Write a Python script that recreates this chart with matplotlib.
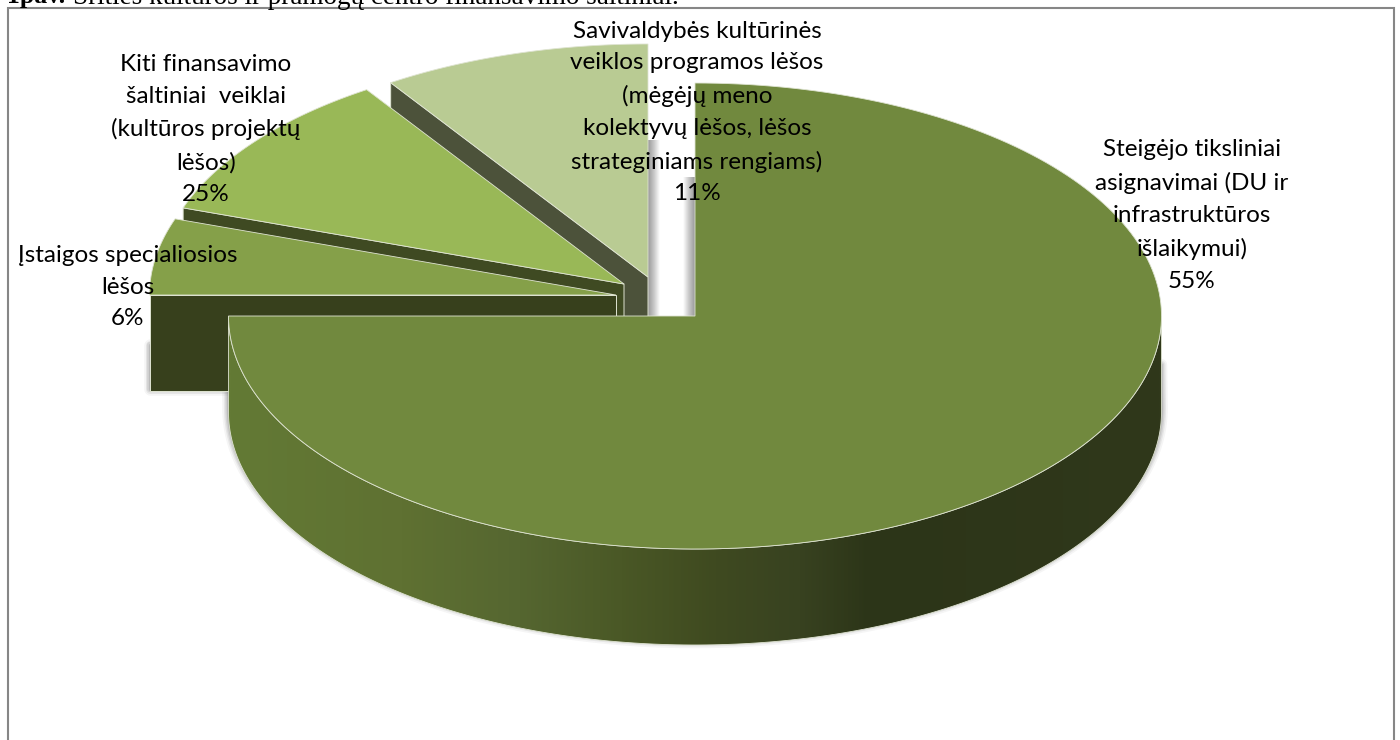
"""Exploded 3D-style pie: funding sources of the culture centre."""
import numpy as np
from matplotlib import pyplot as plt
from matplotlib.colors import LinearSegmentedColormap
from matplotlib.patches import Polygon, Rectangle

# slice sizes as drawn (the printed percentages differ from the drawn areas)
SLICE_SHARES = [75.0, 5.3, 10.4, 9.3]
LABEL_PERCENTS = [55, 6, 25, 11]
LABEL_NAMES = [
    "Steigėjo tiksliniai\nasignavimai (DU ir\ninfrastruktūros\nišlaikymui)",
    "Įstaigos specialiosios\nlėšos",
    "Kiti finansavimo\nšaltiniai  veiklai\n(kultūros projektų\nlėšos)",
    "Savivaldybės kultūrinės\nveiklos programos lėšos\n(mėgėjų meno\nkolektyvų lėšos, lėšos\nstrateginiams rengiams)",
]
CAPTION_BOLD = "1pav."
CAPTION = "Srities kultūros ir pramogų centro finansavimo šaltiniai."

TOP_COLORS = ["#71893e", "#85a049", "#99b857", "#b9cb93"]
WALL_COLORS = ["#3f4a20", "#37401c", "#3f4a22", "#4c523a"]
EDGE = "#dfe4d2"
TIPS = [(695, 316), (616, 295), (624, 284), (648, 277)]
LABEL_POS = [(1192, 215.5), (128, 287), (206, 129.5), (697, 112.5)]

RX, RY, DEPTH = 466.5, 233, 96
WALL_X = [228, 400, 520, 620, 715, 800, 870, 1161]
WALL_C = ["#637a35", "#5f7132", "#556630", "#4a5826", "#3f4a20", "#384220", "#2c3518", "#30381b"]


def arc(tip, t0, t1, n=200, dy=0):
    # angles in degrees, clockwise from 12 o'clock
    t = np.radians(np.linspace(t0, t1, n))
    return np.column_stack(
        [tip[0] + RX * np.sin(t), tip[1] - RY * np.cos(t) + dy]
    )


def soft_shadow(ax, xy, zorder):
    for lw, alpha in [(9, 0.06), (6.5, 0.09), (4.5, 0.12), (2.5, 0.16), (1, 0.2)]:
        ax.add_patch(
            Polygon(xy, closed=True, fc="#555555", ec="#555555", lw=lw, alpha=alpha,
                    joinstyle="round", zorder=zorder)
        )


fig = plt.figure(figsize=(14, 7.4), dpi=100)
ax = fig.add_axes([0, 0, 1, 1])
ax.axis("off")

ax.add_patch(Rectangle((7.5, 8), 1386.5, 760, fc="white", ec="#868686", lw=1.5, zorder=0))

# gaps between the main slice and the light one
grey = LinearSegmentedColormap.from_list("g", ["#9a9a9a", "#c8c8c8", "#ffffff"])
ax.imshow(np.linspace(0, 1, 32)[None, :], extent=[648, 660, 316, 140], aspect="auto",
          cmap=grey, zorder=1)
ax.imshow(np.linspace(1, 0, 32)[None, :], extent=[683, 695, 316, 177], aspect="auto",
          cmap=grey, zorder=1)

# shadows under the walls
soft_shadow(ax, [(150, 345), (400, 345), (400, 389), (150, 389)], 1)
main_floor = arc(TIPS[0], 90, 270, dy=DEPTH - 3)
soft_shadow(ax, np.vstack([[(1161, 365)], main_floor, [(228, 365)]]), 1)

edges = np.concatenate([[0], np.cumsum(SLICE_SHARES)]) * 360 / sum(SLICE_SHARES)

# back to front, so nearer slices cover the walls of the ones behind
for i in reversed(range(len(SLICE_SHARES))):
    tip, t0, t1 = TIPS[i], edges[i], edges[i + 1]
    z = 2 + (len(SLICE_SHARES) - i)
    rim = arc(tip, t0, t1)
    start = rim[0]
    if i > 0:
        # cut face along the slice's first edge
        ax.add_patch(
            Polygon(
                [tip, start, (start[0], start[1] + DEPTH), (tip[0], tip[1] + DEPTH)],
                closed=True, fc=WALL_COLORS[i], ec=EDGE, lw=0.7, zorder=z,
            )
        )
    else:
        # rounded outer wall, shaded left to right
        top = arc(tip, 90, 270)
        wall = Polygon(np.vstack([top, arc(tip, 270, 90, dy=DEPTH)]), closed=True,
                       fc="none", ec=EDGE, lw=0.6, zorder=z + 0.1)
        ax.add_patch(wall)
        cmap = LinearSegmentedColormap.from_list(
            "wall",
            [((x - WALL_X[0]) / (WALL_X[-1] - WALL_X[0]), c) for x, c in zip(WALL_X, WALL_C)],
        )
        im = ax.imshow(np.linspace(0, 1, 512)[None, :], extent=[228, 1162, 646, 316],
                       aspect="auto", cmap=cmap, zorder=z)
        im.set_clip_path(wall)
    ax.add_patch(
        Polygon(np.vstack([[tip], rim]), closed=True, fc=TOP_COLORS[i], ec=EDGE,
                lw=0.6, zorder=z + 0.2)
    )

for name, pct, (x, y) in zip(LABEL_NAMES, LABEL_PERCENTS, LABEL_POS):
    ax.text(x, y, f"{name}\n{pct}%", ha="center", va="center", family="Lato",
            fontsize=17.5, linespacing=1.64, color="black", zorder=10)

ax.text(7, 3.5, CAPTION_BOLD, family="Liberation Serif", fontweight="bold", fontsize=18.5,
        va="baseline", ha="left", zorder=10)
ax.text(73, 3.5, CAPTION, family="Liberation Serif", fontsize=19.5,
        va="baseline", ha="left", zorder=10)

ax.set_xlim(0, 1400)
ax.set_ylim(740, 0)
fig.savefig("out.png", dpi=100)
